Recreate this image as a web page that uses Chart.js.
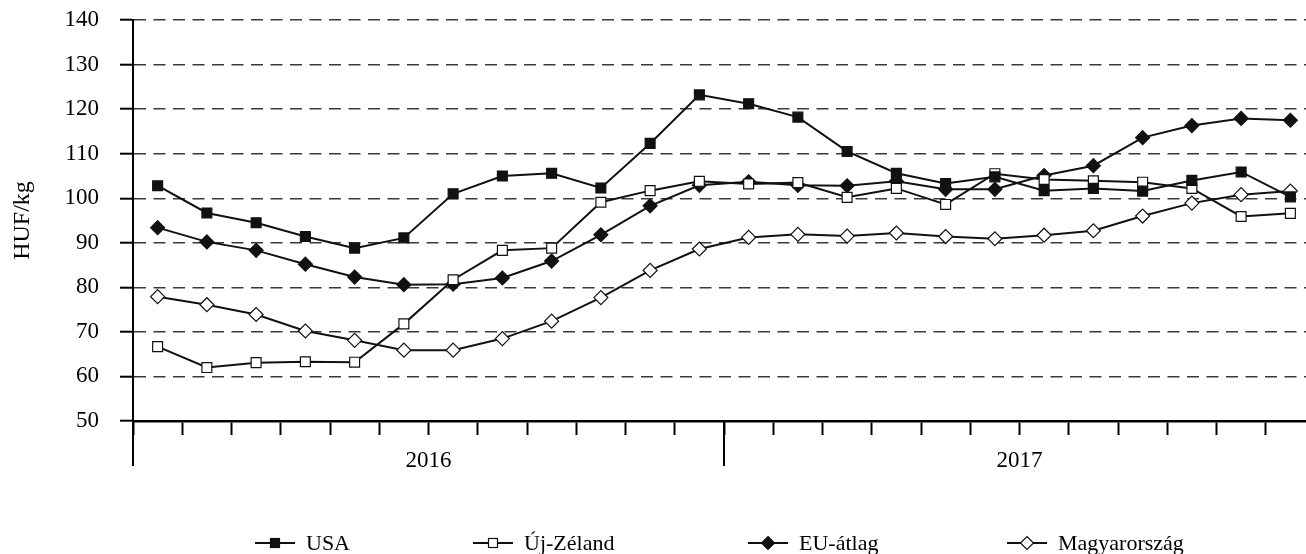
<!DOCTYPE html>
<html>
<head>
<meta charset="utf-8">
<script src="https://cdn.jsdelivr.net/npm/chart.js@4/dist/chart.umd.min.js"></script>
<style>
  html, body { margin: 0; padding: 0; background: #fff; overflow: hidden; }
  #wrap { position: relative; width: 1306px; height: 554px; overflow: hidden; }
  #chart { position: absolute; left: 0; top: 0; }
  #legend { position: absolute; left: 0; top: 529px; width: 1306px; height: 28px;
            font: 22px "Liberation Serif", serif; color: #000; }
  .item { position: absolute; top: 0; height: 28px; display: flex; align-items: center; white-space: nowrap; }
  .item svg { margin-right: 11px; }
</style>
</head>
<body>
<div id="wrap">
  <canvas id="chart" width="1306" height="554"></canvas>
  <div id="legend"></div>
</div>
<script>
  const months = [
    "2016-01", "2016-02", "2016-03", "2016-04", "2016-05", "2016-06",
    "2016-07", "2016-08", "2016-09", "2016-10", "2016-11", "2016-12",
    "2017-01", "2017-02", "2017-03", "2017-04", "2017-05", "2017-06",
    "2017-07", "2017-08", "2017-09", "2017-10", "2017-11", "2017-12",
  ];
  const years = ["2016", "2017"];
  const seriesNames = ["USA", "Új-Zéland", "EU-átlag", "Magyarország"];

  const usa = [102.8, 96.7, 94.5, 91.4, 88.8, 91.1, 101.0, 105.0, 105.6, 102.3, 112.3, 123.2,
               121.2, 118.2, 110.5, 105.6, 103.3, 104.8, 101.7, 102.2, 101.6, 104.0, 105.9, 100.3];
  const ujZeland = [66.7, 62.0, 63.1, 63.3, 63.2, 71.8, 81.7, 88.3, 88.8, 99.1, 101.7, 103.8,
                    103.2, 103.5, 100.2, 102.2, 98.6, 105.5, 104.2, 103.9, 103.6, 102.2, 95.9, 96.6];
  const euAtlag = [93.4, 90.2, 88.3, 85.2, 82.3, 80.6, 80.7, 82.1, 85.9, 91.8, 98.3, 102.9,
                   103.7, 102.9, 102.8, 103.8, 102.0, 102.0, 105.1, 107.3, 113.6, 116.3, 117.9, 117.5];
  const magyar = [77.9, 76.1, 73.9, 70.2, 68.1, 65.9, 65.9, 68.5, 72.4, 77.7, 83.8, 88.6,
                  91.2, 91.9, 91.5, 92.2, 91.4, 90.9, 91.7, 92.7, 96.0, 98.9, 100.8, 101.6];

  const yMin = 50, yMax = 140, yStep = 10;

  const FONT = '"Liberation Serif", "Times New Roman", serif';
  const INK = "#111";
  const OVERHANG = 9; // the source plot is cut off a bit on the right

  // marker style per series: [pointStyle, filled]
  const markers = [["rect", true], ["rect", false], ["rectRot", true], ["rectRot", false]];
  const values = [usa, ujZeland, euAtlag, magyar];

  const datasets = seriesNames.map((name, i) => ({
    label: name,
    data: values[i],
    borderColor: INK,
    borderWidth: 2,
    tension: 0,
    pointStyle: markers[i][0],
    pointRadius: 7,
    pointHoverRadius: 7,
    pointBackgroundColor: markers[i][1] ? INK : "#fff",
    pointBorderColor: INK,
    pointBorderWidth: 1.2,
  }));

  // stretch the x scale past the canvas edge
  const overhang = {
    id: "overhang",
    afterLayout(chart) {
      const x = chart.scales.x;
      x.right = chart.width + OVERHANG;
      x.width = x.right - x.left;
      chart.chartArea.right = x.right;
      chart.chartArea.width = x.right - chart.chartArea.left;
      x.configure();
    },
  };

  // long separators + year labels under the month ticks
  const yearAxis = {
    id: "yearAxis",
    afterDraw(chart) {
      const x = chart.scales.x;
      const ctx = chart.ctx;
      const step = (x.right - x.left) / months.length;
      const per = months.length / years.length;
      ctx.save();
      ctx.strokeStyle = "#000";
      ctx.lineWidth = 2;
      for (let k = 0; k <= years.length; k++) {
        const px = x.left + k * per * step;
        ctx.beginPath();
        ctx.moveTo(px, x.top);
        ctx.lineTo(px, x.top + 45);
        ctx.stroke();
      }
      ctx.fillStyle = "#000";
      ctx.font = "23px " + FONT;
      ctx.textAlign = "center";
      ctx.textBaseline = "middle";
      years.forEach((yr, k) => ctx.fillText(yr, x.left + (k + 0.5) * per * step, x.top + 40));
      ctx.restore();
    },
  };

  new Chart(document.getElementById("chart"), {
    type: "line",
    data: { labels: months, datasets: datasets },
    plugins: [overhang, yearAxis],
    options: {
      responsive: false,
      animation: false,
      devicePixelRatio: 1,
      layout: { padding: { top: 20, right: 0, left: 0, bottom: 0 } },
      plugins: { legend: { display: false }, tooltip: { enabled: false } },
      scales: {
        x: {
          type: "category",
          offset: true,
          afterFit: (s) => { s.height = 133; s.paddingLeft = 0; s.paddingRight = 0; },
          ticks: { display: false },
          grid: {
            offset: true,
            drawOnChartArea: false,
            drawTicks: true,
            tickLength: 14,
            tickColor: "#000",
            tickWidth: 2,
          },
          border: { display: true, color: "#000", width: 2.5 },
        },
        y: {
          min: yMin,
          max: yMax,
          afterFit: (s) => { s.width = 133; s.paddingTop = 0; s.paddingBottom = 0; },
          ticks: {
            stepSize: yStep,
            padding: 21,
            color: "#000",
            font: { family: FONT, size: 23 },
          },
          grid: {
            color: "#3a3a3a",
            lineWidth: 1.4,
            borderDash: [12, 7.5],
            tickLength: 13,
            tickColor: "#000",
            tickWidth: 2,
            tickBorderDash: [],
          },
          border: { display: true, color: "#000", width: 2, dash: [12, 7.5] },
          title: {
            display: true,
            text: "HUF/kg",
            color: "#000",
            font: { family: FONT, size: 24 },
            padding: { top: 8, bottom: 0 },
          },
        },
      },
    },
  });

  // legend: line with marker, then label
  const legendLeft = [255, 473, 748, 1007];
  const legend = document.getElementById("legend");
  seriesNames.forEach((name, i) => {
    const fill = markers[i][1] ? INK : "#fff";
    const mark = markers[i][0] === "rect"
      ? `<rect x="15.5" y="9.5" width="9" height="9" fill="${fill}" stroke="${INK}" stroke-width="1.2"/>`
      : `<polygon points="20,7.5 26.5,14 20,20.5 13.5,14" fill="${fill}" stroke="${INK}" stroke-width="1.2"/>`;
    const el = document.createElement("div");
    el.className = "item";
    el.style.left = legendLeft[i] + "px";
    el.innerHTML = `<svg width="40" height="28"><line x1="0" y1="14" x2="40" y2="14" stroke="${INK}" stroke-width="2.2"/>${mark}</svg><span>${name}</span>`;
    legend.appendChild(el);
  });
</script>
</body>
</html>
